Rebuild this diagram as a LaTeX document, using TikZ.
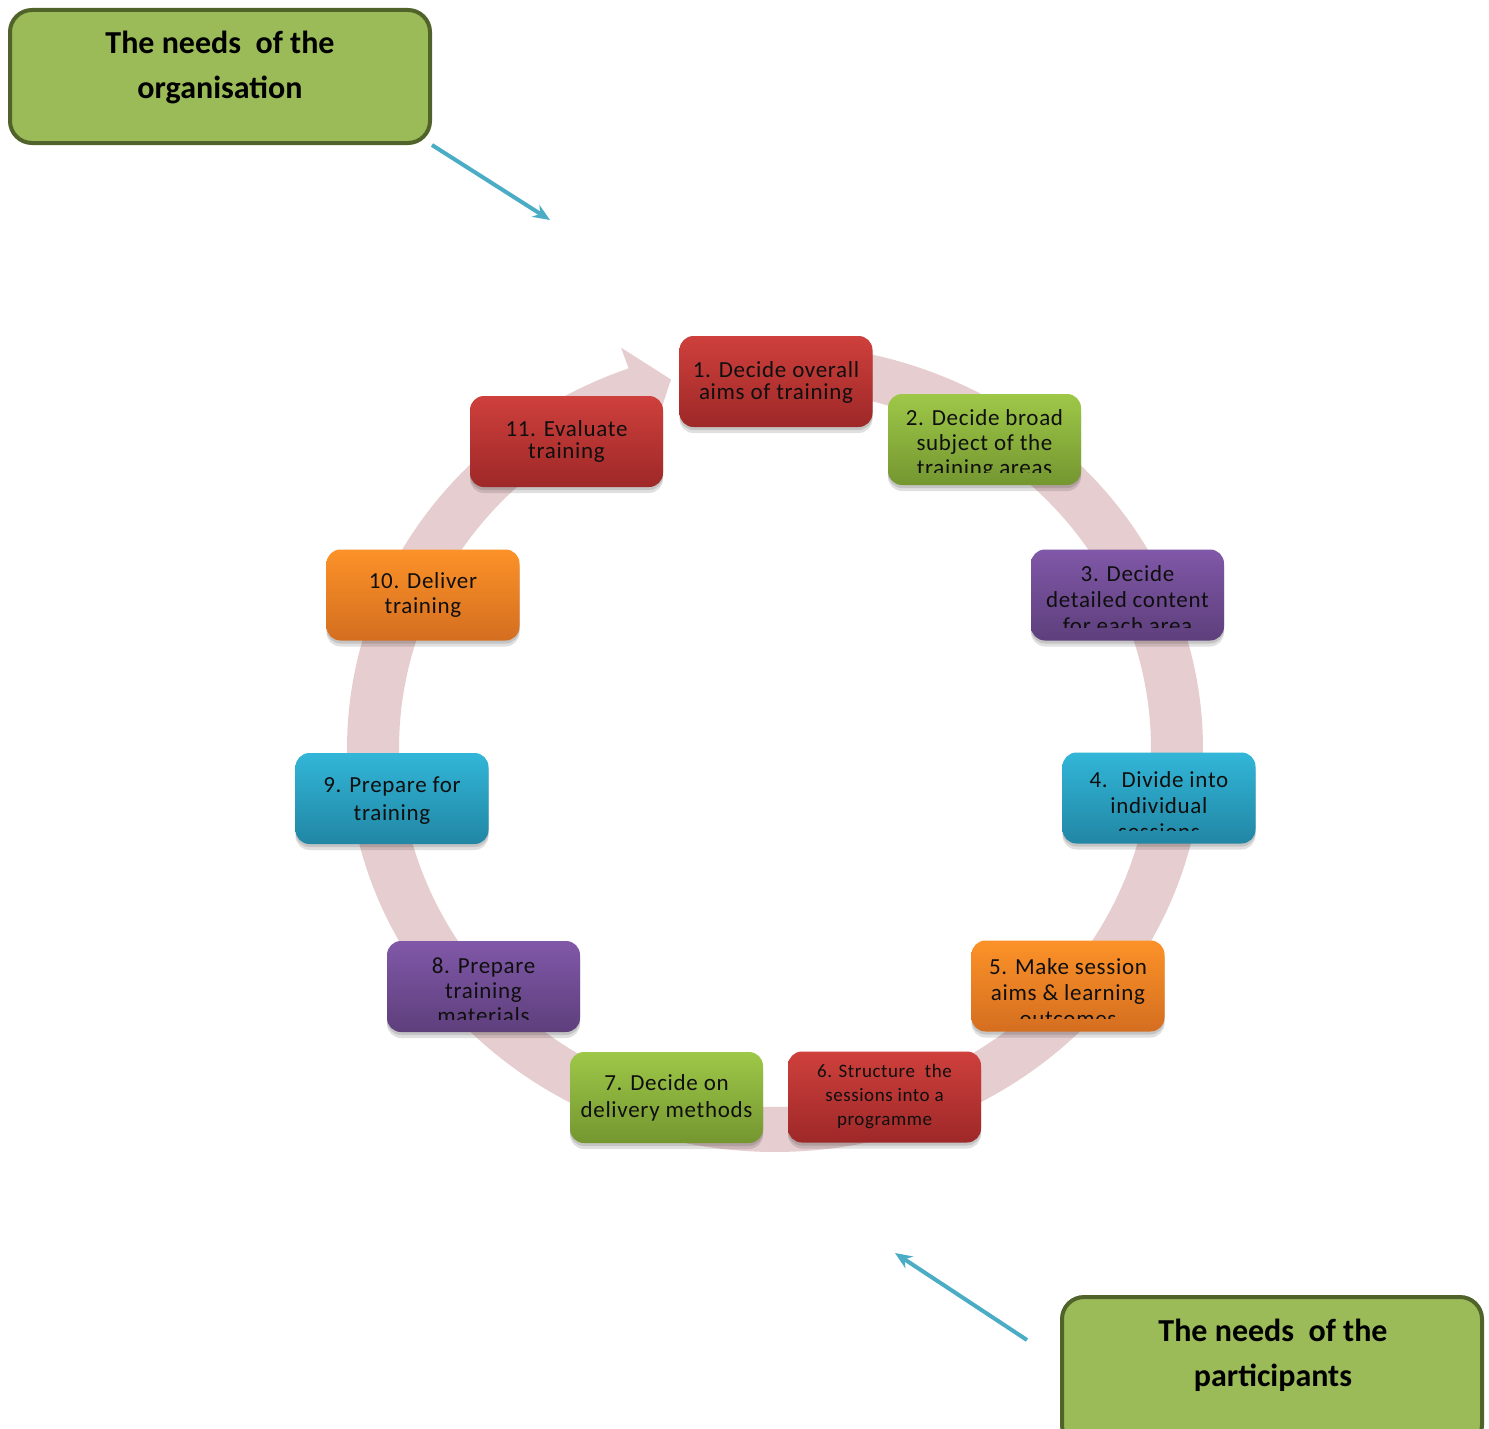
\documentclass[tikz,border=0pt]{standalone}
\usepackage{fontspec}
\setmainfont{Carlito}
\newfontfamily\stepfont[LetterSpace=3]{Carlito}
\usetikzlibrary{shadows,arrows.meta}
\definecolor{credtop}{RGB}{206,64,60}
\definecolor{credbot}{RGB}{158,40,40}
\definecolor{cgrntop}{RGB}{158,200,72}
\definecolor{cgrnbot}{RGB}{116,150,48}
\definecolor{cpurtop}{RGB}{128,88,168}
\definecolor{cpurbot}{RGB}{94,63,124}
\definecolor{cblutop}{RGB}{50,182,216}
\definecolor{cblubot}{RGB}{33,134,164}
\definecolor{corgtop}{RGB}{252,146,40}
\definecolor{corgbot}{RGB}{212,110,32}
\definecolor{ringcol}{RGB}{230,205,207}
\definecolor{needfill}{RGB}{155,187,89}
\definecolor{needline}{RGB}{80,99,42}
\definecolor{arrowblue}{RGB}{75,172,198}
\definecolor{txt}{RGB}{15,15,15}
\lineskiplimit=-100pt
\tikzset{
  stepbox/.style={rounded corners=14pt, minimum width=193pt, minimum height=91pt,
    inner sep=0pt, draw=none,
    drop shadow={shadow xshift=0pt, shadow yshift=-3pt, opacity=0.12, fill=black},
    drop shadow={shadow xshift=0pt, shadow yshift=-6pt, opacity=0.12, fill=black}},
  steptext/.style={inner sep=0pt, align=center, text=txt},
  needbox/.style={rounded corners=22pt, fill=needfill, draw=needline, line width=4pt,
    inner sep=0pt},
  needtext/.style={inner sep=0pt, align=center, text=black,
    font={\bfseries\fontsize{32}{45}\selectfont}},
  needarrow/.style={draw=arrowblue, line width=4pt,
    -{Stealth[length=17pt,width=14pt]}},
}
% #1 name, #2 cx, #3 cy, #4 colour, #5 font size, #6 skip, #7 first baseline, #8 text
\newcommand{\cstep}[8]{%
  \node[stepbox, top color=#4top, bottom color=#4bot] (#1) at (#2,#3) {};
  \begin{scope}
    \clip ([yshift=13pt]#1.south west) rectangle (#1.north east);
    \node[steptext, anchor=north,
      font={\stepfont\fontsize{#5}{#6}\selectfont}]
      (#1t) at (#2,{#7-0.7*#6}) {\strut #8};
  \end{scope}}
\begin{document}
\begin{tikzpicture}[x=1pt,y=-1pt]
\clip (0,0) rectangle (1489,1429);
\fill[white] (0,0) rectangle (1489,1429);
% cycle ring with arrow head
\fill[ringcol]
  plot[domain=80:-250, samples=220, variable=\t] ({775+428*cos(\t)},{748-404*sin(\t)})
  -- ({775+450*cos(-250)},{748-426*sin(-250)})
  -- ({775+402*cos(-255)},{748-381.5*sin(-255)})
  -- ({775+354*cos(-250)},{748-337*sin(-250)})
  -- plot[domain=-250:80, samples=220, variable=\t] ({775+376*cos(\t)},{748-359*sin(\t)})
  -- cycle;
% steps
\cstep{s1}{776}{381.5}{cred}{23}{22}{377}{1. Decide overall\\aims of training}
\cstep{s2}{984.5}{439.5}{cgrn}{23}{25}{425}{2. Decide broad\\subject of the\\training areas}
\cstep{s3}{1127.5}{595}{cpur}{23}{26}{581}{3. Decide\\detailed content\\for each area}
\cstep{s4}{1159}{798}{cblu}{23}{26}{787}{4.~ Divide into\\individual\\sessions}
\cstep{s5}{1068}{986}{corg}{23}{26}{974}{5. Make session\\aims \& learning\\outcomes}
\cstep{s6}{884.5}{1097}{cred}{19}{24}{1077}{6. Structure~ the\\sessions into a\\programme}
\cstep{s7}{666.5}{1097.5}{cgrn}{23}{27}{1090}{7. Decide on\\delivery methods}
\cstep{s8}{483.5}{986.5}{cpur}{23}{25}{973}{8. Prepare\\training\\materials}
\cstep{s9}{392}{798.5}{cblu}{23}{28}{792}{9. Prepare for\\training}
\cstep{s10}{423}{595}{corg}{23}{25}{588}{10. Deliver\\training}
\cstep{s11}{566.5}{441.5}{cred}{23}{22}{436}{11. Evaluate\\training}
% needs boxes
\node[needbox, minimum width=420pt, minimum height=133pt] (org) at (220,76.5) {};
\node[needtext, anchor=north] (orgt) at (220,{53-31.5}) {\strut The needs~ of the\\organisation};
\node[needbox, minimum width=420pt, minimum height=150pt] (part) at (1272,1372) {};
\node[needtext, anchor=north] (partt) at (1273,{1341-31.5}) {\strut The needs~ of the\\participants};
% arrows
\coordinate (orgtip) at (550,220);
\coordinate (partfrom) at (1027,1340);
\coordinate (parttip) at (895,1253);
\draw[needarrow] (org.south east) -- (orgtip);
\draw[needarrow] (partfrom) -- (parttip);
\end{tikzpicture}
\end{document}
